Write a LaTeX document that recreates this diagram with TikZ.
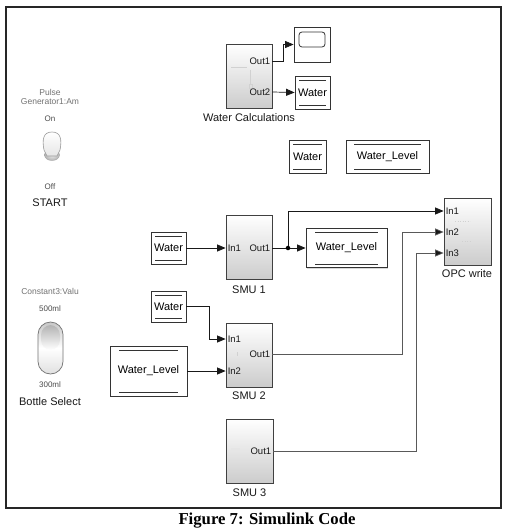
\documentclass[tikz,border=0pt]{standalone}
\usepackage{fontspec}
\setmainfont{Liberation Sans}
\newfontfamily\capfont{Liberation Serif}
\usetikzlibrary{arrows.meta,shadows}
\begin{document}
\begin{tikzpicture}[x=1pt,y=-1pt,
  lbl/.style={font=\fontsize{11}{12}\selectfont, inner sep=0pt, text=black!90},
  dim/.style={font=\fontsize{8.5}{9}\selectfont, inner sep=0pt, text=black!55},
  port/.style={font=\fontsize{9.5}{10}\selectfont, inner sep=2pt, text=black!90},
  subsys/.style={draw=black!75, line width=0.8pt, top color=white, bottom color=black!20,
    drop shadow={shadow xshift=1.2pt, shadow yshift=-1.2pt, opacity=0.3}, inner sep=0pt},
  tagblk/.style={draw=black!80, line width=0.8pt, fill=white, inner sep=0pt,
    font=\fontsize{11}{12}\selectfont,
    drop shadow={shadow xshift=1.2pt, shadow yshift=-1.2pt, opacity=0.3},
    path picture={
      \draw[black!80, line width=0.7pt]
        ([xshift=#1pt,yshift=-4pt]path picture bounding box.north west) --
        ([xshift=-#1pt,yshift=-4pt]path picture bounding box.north east);
      \draw[black!80, line width=0.7pt]
        ([xshift=#1pt,yshift=3.5pt]path picture bounding box.south west) --
        ([xshift=-#1pt,yshift=3.5pt]path picture bounding box.south east);}},
  tagblk/.default=4,
  faint/.style={draw=black!18, line width=0.5pt},
  sig/.style={line width=0.7pt, draw=black!90, -{Triangle[length=8.5pt,width=7pt]}},
  sigg/.style={line width=0.7pt, draw=black!65, -{Triangle[length=8.5pt,width=7pt,fill=black!90]}},
  wire/.style={line width=0.7pt, draw=black!90}
]
\useasboundingbox (0,0) rectangle (506,532);
\fill[white] (0,0) rectangle (506,532);

% model canvas frame
\draw[line width=1.8pt, black!85] (6,7) rectangle (501,508);

% ---- dashboard controls ----
\node[dim] (pulse1) at (50,92) {Pulse};
\node[dim] (pulse2) at (50,102) {Generator1:Am};
\node[dim, text=black!70, font=\fontsize{8}{9}\selectfont] (on) at (50,119) {On};
% toggle switch
\shade[inner color=black!8, outer color=black!30, draw=black!35]
  (52,155) ellipse [x radius=7.5pt, y radius=5.5pt];
\shade[top color=white, bottom color=black!10, draw=black!40, line width=0.6pt]
  (44,150) .. controls (42,140) and (43,132) .. (52,132)
  .. controls (61,132) and (62,140) .. (60,150) -- (57,156) -- (47,156) -- cycle;
\node[dim, text=black!70, font=\fontsize{8}{9}\selectfont] (off) at (50,187) {Off};
\node[lbl] (start) at (50,203) {START};

\node[dim] (const) at (50,291) {Constant3:Valu};
\node[dim, text=black!70, font=\fontsize{8}{9}\selectfont] (ml5) at (50,309) {500ml};
% rocker switch
\shade[top color=black!22, bottom color=black!12, middle color=white, draw=black!55, line width=0.7pt,
  rounded corners=12.5pt] (38,322) rectangle (63,374);
\shade[top color=black!30, bottom color=white, rounded corners=10pt] (41,325) rectangle (60,350);
\node[dim, text=black!70, font=\fontsize{8}{9}\selectfont] (ml3) at (50,385) {300ml};
\node[lbl] (bsel) at (50,402) {Bottle Select};

% ---- Water Calculations with its outputs ----
\node[subsys, minimum width=46pt, minimum height=64pt] (wc) at (249,76) {};
\draw[faint] (231,67) -- (247,67);
\draw[faint] (250,70) -- (250,84);
\draw[faint] (249,84) rectangle (252,88);
\node[port, anchor=east] (wco1) at (wc.east |- 0,61) {Out1};
\node[port, anchor=east] (wco2) at (wc.east |- 0,92) {Out2};
\node[lbl] (wclbl) at (249,118) {Water Calculations};

\node[draw=black!80, line width=0.8pt, fill=white, minimum width=36pt, minimum height=35pt,
  drop shadow={shadow xshift=1.2pt, shadow yshift=-1.2pt, opacity=0.3}] (scope) at (312,44.5) {};
\draw[black!80, line width=0.8pt, rounded corners=3pt] (299,32) rectangle (325,47);
\node[tagblk, minimum width=35pt, minimum height=33pt] (gw) at (312.5,92.5) {Water};

\draw[sig] (wco1.east) -- ++(11,0) |- (scope.west);
\draw[sig] (wco2.east) -- (gw.west);

% ---- stand-alone tags ----
\node[tagblk, minimum width=37pt, minimum height=33pt] (fw) at (307.5,156.5) {Water};
\node[tagblk=8, minimum width=83pt, minimum height=33pt] (fwl) at (387.5,156.5) {Water\_Level};

% ---- SMU 1 ----
\node[tagblk, minimum width=35pt, minimum height=32pt] (ws1) at (168.5,248) {Water};
\node[subsys, minimum width=46pt, minimum height=64pt] (smu1) at (249,247) {};
\node[port, anchor=west] (s1i1) at (smu1.west |- 0,248) {In1};
\node[port, anchor=east] (s1o1) at (smu1.east |- 0,248) {Out1};
\node[lbl] (s1lbl) at (249,290) {SMU 1};
\node[tagblk=9, minimum width=81pt, minimum height=39pt] (wlm) at (346.5,248) {Water\_Level};

% ---- OPC write ----
\node[subsys, minimum width=47pt, minimum height=67pt] (opc) at (467.5,231.5) {};
\draw[faint, dotted] (455,221) -- (470,221);
\draw[faint, dotted] (462,241) -- (470,241);
\node[port, anchor=west] (oi1) at (opc.west |- 0,211) {In1};
\node[port, anchor=west] (oi2) at (opc.west |- 0,232) {In2};
\node[port, anchor=west] (oi3) at (opc.west |- 0,253) {In3};
\node[lbl] (opclbl) at (467,274) {OPC write};

\draw[sig] (ws1.east) -- (s1i1.west);
\node[circle, fill=black, inner sep=1.6pt] (jn) at (288,248) {};
\draw[wire] (s1o1.east) -- (jn);
\draw[sig] (jn) -- (wlm.west);
\draw[sig] (jn) |- (oi1.west);

% ---- SMU 2 ----
\node[tagblk, minimum width=35pt, minimum height=31pt] (ws2) at (168.5,306.5) {Water};
\node[tagblk=9, minimum width=77pt, minimum height=50pt] (wl2) at (148.5,371) {Water\_Level};
\node[subsys, minimum width=46pt, minimum height=64pt] (smu2) at (249,355) {};
\draw[faint] (237,352) -- (237,356);
\node[port, anchor=west] (s2i1) at (smu2.west |- 0,339) {In1};
\node[port, anchor=west] (s2i2) at (smu2.west |- 0,371) {In2};
\node[port, anchor=east] (s2o1) at (smu2.east |- 0,354) {Out1};
\node[lbl] (s2lbl) at (249,396) {SMU 2};

\draw[sig] (ws2.east) -- ++(23,0) |- (s2i1.west);
\draw[sig] (wl2.east) -- (s2i2.west);
\draw[sigg] (s2o1.east) -- ++(130,0) |- (oi2.west);

% ---- SMU 3 ----
\node[subsys, minimum width=47pt, minimum height=64pt] (smu3) at (249.5,451) {};
\draw[black!10, line width=2pt] (231,449) -- (240,449);
\node[port, anchor=east] (s3o1) at (smu3.east |- 0,451) {Out1};
\node[lbl] (s3lbl) at (249.5,493) {SMU 3};
\draw[sigg] (s3o1.east) -- ++(143,0) |- (oi3.west);

% caption
\node[font=\capfont\bfseries\fontsize{16.7}{18}\selectfont, inner sep=0pt, anchor=base] (cap)
  at (267,524) {Figure 7: Simulink Code};
\end{tikzpicture}
\end{document}
